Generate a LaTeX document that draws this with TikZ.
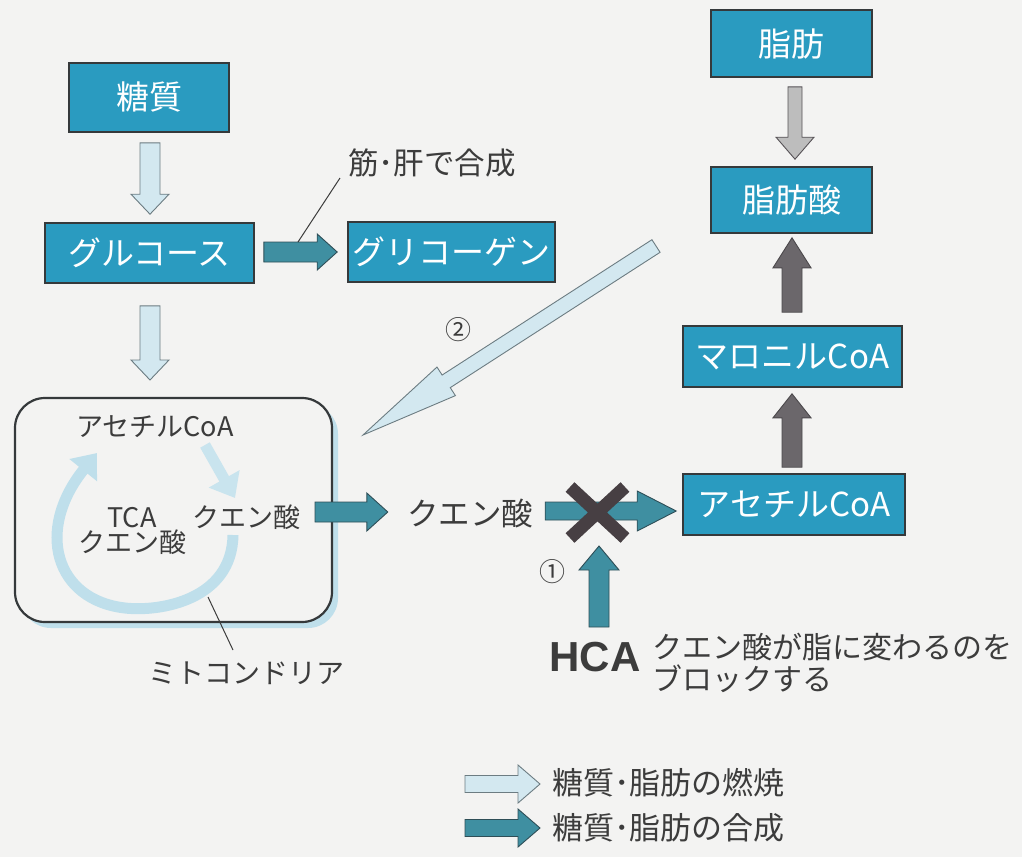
\documentclass[tikz,border=0pt]{standalone}
\usepackage{fontspec}
\setmainfont{Noto Sans CJK JP}
\newfontfamily\hcafont{Liberation Sans}
\usetikzlibrary{calc,arrows.meta}
\definecolor{paper}{HTML}{F3F3F2}
\definecolor{boxblue}{HTML}{2A9BC0}
\definecolor{boxline}{HTML}{35393B}
\definecolor{synthc}{HTML}{3F8FA1}
\definecolor{synthline}{HTML}{2E4E57}
\definecolor{burnc}{HTML}{D3E8F0}
\definecolor{burnline}{HTML}{6C7C82}
\definecolor{greyarr}{HTML}{BDBDBD}
\definecolor{darkarr}{HTML}{6B676B}
\definecolor{ink}{HTML}{3C3C3C}
\definecolor{cyclec}{HTML}{BFDFEB}
\definecolor{crossc}{HTML}{473F43}
\newcommand\fs[1]{\fontsize{#1}{#1}\selectfont}
\newcommand\blockarrow[6]{%
  \coordinate (ba-h) at ($(#3)!#6!(#2)$);
  \draw[#1] ($(#2)!#4!90:(#3)$) -- ($(ba-h)!#4!90:(#3)$) -- ($(ba-h)!#5!90:(#3)$) -- (#3)
    -- ($(ba-h)!#5!-90:(#3)$) -- ($(ba-h)!#4!-90:(#3)$) -- ($(#2)!#4!-90:(#3)$) -- cycle;
}
\tikzset{
  box/.style={draw=boxline, line width=1.6pt, fill=boxblue, text=white, inner sep=0pt, font=\fs{33}},
  synth/.style={fill=synthc, draw=synthline, line width=0.9pt, line join=miter},
  burn/.style={fill=burnc, draw=burnline, line width=0.9pt, line join=miter},
  greyblk/.style={fill=greyarr, draw=darkarr!80!black, line width=0.9pt, line join=miter},
  darkblk/.style={fill=darkarr, draw=darkarr!70!black, line width=0.9pt, line join=miter},
  txt/.style={text=ink, inner sep=0pt},
  leader/.style={draw=ink, line width=1pt},
  cyc/.style={draw=cyclec, line width=11pt, -{Triangle[width=34pt,length=22pt]}},
}
\begin{document}
\begin{tikzpicture}[x=1pt,y=-1pt]
\fill[paper] (0,0) rectangle (1022,857);
\useasboundingbox (0,0) rectangle (1022,857);

% boxes
\node[box, minimum width=160pt, minimum height=69pt] (sugar) at (149,97.5) {糖質};
\node[box, minimum width=209pt, minimum height=60pt] (glucose) at (149.5,253) {グルコース};
\node[box, minimum width=207pt, minimum height=60pt] (glycogen) at (451.5,252) {グリコーゲン};
\node[box, minimum width=161pt, minimum height=67pt] (fat) at (791.5,43.5) {脂肪};
\node[box, minimum width=161pt, minimum height=66pt] (fattyacid) at (791.5,200) {脂肪酸};
\node[box, minimum width=219pt, minimum height=61pt] (malonyl) at (792.5,356.5) {マロニルCoA};
\node[box, minimum width=222pt, minimum height=61pt] (acetyl) at (794,504.5) {アセチルCoA};

% mitochondria
\fill[cyclec, rounded corners=30pt] (21,404) rectangle (338,628);
\node[draw=boxline, line width=2.2pt, fill=paper, rounded corners=30pt,
      minimum width=317pt, minimum height=224pt, inner sep=0pt] (mito) at (173.5,510) {};
\draw[cyc] (233,535) .. controls (232,600) and (160,612) .. (125,608)
  .. controls (55,600) and (35,530) .. (97,453);
\draw[cyc, draw=cyclec!85!white] (205,445) -- (235,498);
\node[txt, font=\fs{27}] (macoa) at (155,427) {アセチルCoA};
\node[txt, font=\fs{27}, align=center] (tca) at (132,531) {TCA\\[-2pt]クエン酸};
\node[txt, font=\fs{27}] (citin) at (246,517) {クエン酸};
\node[txt, font=\fs{28}] (mitolbl) at (246,673) {ミトコンドリア};
\coordinate (ml1) at (208,597);
\coordinate (ml2) at (233,650);
\draw[leader] (ml1) -- (ml2);

% citric acid (outside)
\node[txt, font=\fs{31.5}] (citout) at (470,513) {クエン酸};

% arrow coordinates
\coordinate (a1s) at ($(sugar.south)+(1,10)$);
\coordinate (a1e) at ($(glucose.north)+(0.5,-8)$);
\coordinate (a2s) at ($(glucose.south)+(0.5,22)$);
\coordinate (a2e) at (150,380);
\coordinate (a3s) at ($(glucose.east)+(9,-1)$);
\coordinate (a3e) at ($(glycogen.west)+(-10,0)$);
\coordinate (a4s) at ($(fat.south)+(3.5,9)$);
\coordinate (a4e) at ($(fattyacid.north)+(3.5,-7)$);
\coordinate (a5s) at ($(malonyl.north)+(-0.5,-13)$);
\coordinate (a5e) at ($(fattyacid.south)+(0.5,4)$);
\coordinate (a6s) at ($(acetyl.north)+(-2,-6)$);
\coordinate (a6e) at ($(malonyl.south)+(-0.5,6)$);
\coordinate (a7s) at (315,512);
\coordinate (a7e) at ($(citout.west)+(-19,-1)$);
\coordinate (a8s) at ($(citout.east)+(12,-2)$);
\coordinate (a8e) at ($(acetyl.west)+(-6,6.5)$);
\coordinate (c2s) at (656,246);
\coordinate (c2e) at (363,435);

\blockarrow{burn}{a1s}{a1e}{10pt}{19pt}{20pt}
\blockarrow{burn}{a2s}{a2e}{10pt}{19pt}{20pt}
\blockarrow{synth}{a3s}{a3e}{10pt}{18pt}{20pt}
\blockarrow{greyblk}{a4s}{a4e}{7pt}{19pt}{22pt}
\blockarrow{darkblk}{a5s}{a5e}{10pt}{19pt}{30pt}
\blockarrow{darkblk}{a6s}{a6e}{10pt}{19pt}{24pt}
\blockarrow{synth}{a7s}{a7e}{10pt}{19pt}{21pt}
\blockarrow{synth}{a8s}{a8e}{9pt}{20pt}{39pt}
\blockarrow{burn}{c2s}{c2e}{7.5pt}{17pt}{99pt}
\node[txt, font=\fs{26}] (two) at (458,330) {②};

% block mark
\draw[crossc, line width=13pt] (570,487) -- (625,538) (625,487) -- (570,538);

% HCA
\node[txt, font=\hcafont\bfseries\fs{42}] (hca) at (595,657) {HCA};
\coordinate (a9s) at (599,627);
\coordinate (a9e) at (599,546);
\blockarrow{synth}{a9s}{a9e}{10pt}{20pt}{24pt}
\node[txt, font=\fs{26}] (one) at (552,572) {①};
\node[txt, font=\fs{30}, align=left, anchor=west] (hcatext) at (652,663)
  {クエン酸が脂に変わるのを\\[2pt]ブロックする};
\coordinate (gl1) at (340,178);
\coordinate (gl2) at (298,242);
\node[txt, font=\fs{30.5}] (musc) at (432,163) {筋･肝で合成};
\draw[leader] (gl1) -- (gl2);

% legend
\coordinate (l1s) at (465,784);
\coordinate (l1e) at (540,784);
\coordinate (l2s) at (465,828);
\coordinate (l2e) at (540,828);
\blockarrow{burn}{l1s}{l1e}{8.5pt}{19pt}{22pt}
\blockarrow{synth}{l2s}{l2e}{8.5pt}{19pt}{22pt}
\node[txt, font=\fs{31}, anchor=west] (leg1) at (552,783) {糖質･脂肪の燃焼};
\node[txt, font=\fs{31}, anchor=west] (leg2) at (552,828) {糖質･脂肪の合成};
\end{tikzpicture}
\end{document}
